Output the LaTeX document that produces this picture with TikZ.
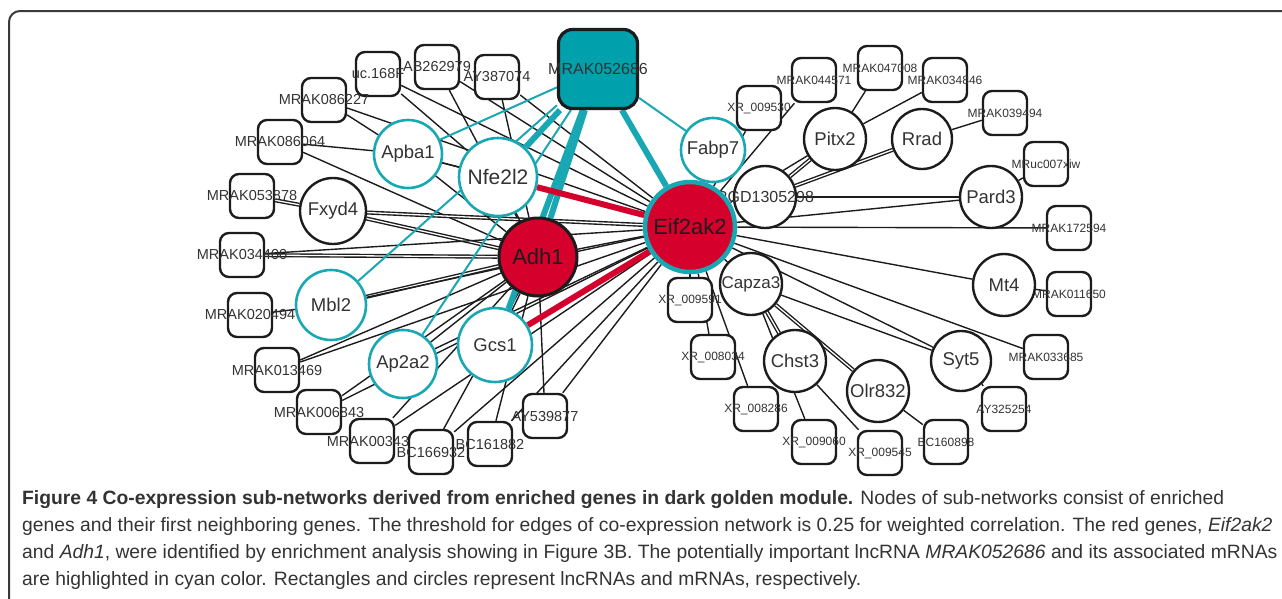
\documentclass[tikz,border=0pt]{standalone}
\usepackage{fontspec}
\setmainfont{Liberation Sans}
\usetikzlibrary{backgrounds}
\definecolor{lncfill}{HTML}{00A0AC}
\definecolor{lncborder}{HTML}{19A8B3}
\definecolor{hubred}{HTML}{D6002C}
\definecolor{darkline}{HTML}{1C1C1C}
\definecolor{labeltext}{HTML}{333333}
\definecolor{framegray}{HTML}{3A3A3A}
\tikzset{
  lnc/.style={rectangle, rounded corners=9pt, draw=darkline, fill=white, line width=2.4pt, minimum size=44pt, inner sep=0pt},
  tagl/.style={font=\fontsize{14.5}{15}\selectfont, text=labeltext, inner sep=0pt},
  tagr/.style={font=\fontsize{12}{13}\selectfont, text=labeltext, inner sep=0pt},
  boxl/.style={lnc, label={[tagl]center:#1}},
  boxr/.style={lnc, label={[tagr]center:#1}},
  keylnc/.style={lnc, fill=lncfill, line width=3.2pt, minimum size=79pt, rounded corners=14pt,
    label={[font=\fontsize{16}{17}\selectfont, text=labeltext]center:#1}},
  mrna/.style={circle, draw=darkline, fill=white, line width=2.4pt, inner sep=0pt, text=labeltext, font=\fontsize{18.5}{19}\selectfont},
  mrnacyan/.style={mrna, draw=lncborder, line width=2.6pt},
  hub/.style={circle, fill=hubred, inner sep=0pt, text=darkline, font=\fontsize{22}{23}\selectfont},
  edge/.style={draw=darkline, line width=1.4pt},
  pairedge/.style={edge, double=white, double distance=1.3pt},
  cyanthin/.style={draw=lncborder, line width=2pt},
  cyanthick/.style={draw=lncborder, line width=6pt},
  redlink/.style={draw=hubred, line width=6pt},
  frame/.style={draw=framegray, line width=2pt, rounded corners=11pt},
  caption/.style={anchor=base west, align=left, inner sep=0pt, text=labeltext,
    font=\fontsize{19.3}{27}\selectfont},
}

\begin{document}
\begin{tikzpicture}[x=1pt, y=-1pt]
\useasboundingbox (0,0) rectangle (1282,598);
\clip (0,0) rectangle (1282,598);
\draw[frame] (9,11) rectangle (1310,630);

% ===== left lncRNAs =====
\node[boxl=uc.168F]    (uc168f)   at (378,74)  {};
\node[boxl=AB262979]   (ab262979) at (437,67)  {};
\node[boxl=AY387074]   (ay387074) at (497,77)  {};
\node[boxl=MRAK086227] (m086227)  at (324,100) {};
\node[boxl=MRAK086064] (m086064)  at (280,142) {};
\node[boxl=MRAK053878] (m053878)  at (252,196) {};
\node[boxl=MRAK034400] (m034400)  at (242,255) {};
\node[boxl=MRAK020494] (m020494)  at (250,315) {};
\node[boxl=MRAK013469] (m013469)  at (277,370) {};
\node[boxl=MRAK006843] (m006843)  at (319,412) {};
\node[boxl=MRAK003434] (m003434)  at (372,441) {};
\node[boxl=BC166932]   (bc166932) at (431,452) {};
\node[boxl=BC161882]   (bc161882) at (490,444) {};
\node[boxl=AY539877]   (ay539877) at (545,416) {};

% ===== left mRNAs =====
\node[mrna, minimum size=66pt]     (fxyd4)  at (333,211) {Fxyd4};
\node[mrnacyan, minimum size=68pt] (apba1)  at (408,154) {Apba1};
\node[mrnacyan, minimum size=78pt] (nfe2l2) at (498,177) {\fontsize{21}{22}\selectfont Nfe2l2};
\node[mrnacyan, minimum size=70pt] (mbl2)   at (331,305) {Mbl2};
\node[mrnacyan, minimum size=68pt] (ap2a2)  at (403,364) {Ap2a2};
\node[mrnacyan, minimum size=74pt] (gcs1)   at (495,345) {Gcs1};

% ===== right lncRNAs =====
\node[boxr=XR\_009530]  (xr009530) at (759,108) {};
\node[boxr=MRAK044571]  (m044571)  at (814,80)  {};
\node[boxr=MRAK047008]  (m047008)  at (880,68)  {};
\node[boxr=MRAK034846]  (m034846)  at (945,80)  {};
\node[boxr=MRAK039494]  (m039494)  at (1005,113) {};
\node[boxr=MRuc007xiw]  (mruc007)  at (1046,164) {};
\node[boxr=MRAK172594]  (m172594)  at (1069,228) {};
\node[boxr=MRAK011650]  (m011650)  at (1069,294) {};
\node[boxr=MRAK033685]  (m033685)  at (1046,357) {};
\node[boxr=AY325254]    (ay325254) at (1004,409) {};
\node[boxr=BC160898]    (bc160898) at (946,442) {};
\node[boxr=XR\_009545]  (xr009545) at (880,453) {};
\node[boxr=XR\_009060]  (xr009060) at (814,442) {};
\node[boxr=XR\_008286]  (xr008286) at (756,409) {};
\node[boxr=XR\_008034]  (xr008034) at (713,357) {};
\node[boxr=XR\_009591]  (xr009591) at (690,300) {};

% ===== right mRNAs =====
\node[mrna, minimum size=62pt] (pitx2)  at (835,139) {Pitx2};
\node[mrna, minimum size=60pt] (rrad)   at (922,139) {Rrad};
\node[mrna, minimum size=62pt, label={[text=labeltext, font=\fontsize{16}{17}\selectfont]center:RGD1305298}] (rgd) at (765,197) {};
\node[mrna, minimum size=62pt] (pard3)  at (991,197) {Pard3};
\node[mrna, minimum size=62pt] (mt4)    at (1004,285) {Mt4};
\node[mrna, minimum size=60pt] (syt5)   at (961,361) {Syt5};
\node[mrna, minimum size=62pt] (olr832) at (878,391) {Olr832};
\node[mrna, minimum size=62pt] (chst3)  at (795,361) {Chst3};
\node[mrna, minimum size=62pt] (capza3) at (751,284) {\fontsize{17}{18}\selectfont Capza3};
\node[mrnacyan, minimum size=64pt] (fabp7) at (713,150) {Fabp7};

% ===== hubs =====
\node[hub, draw=darkline, line width=3pt, minimum size=78pt] (adh1) at (538,257) {Adh1};
\node[hub, draw=lncborder, line width=4.5pt, minimum size=90pt] (eif2ak2) at (690,227) {Eif2ak2};
\node[keylnc=MRAK052686] (m052686) at (598,69) {};

% ===== co-expression edges =====
\begin{scope}[on background layer]
  % left side
  \draw[edge] (uc168f) -- (nfe2l2);
  \draw[edge] (uc168f) -- (eif2ak2);
  \draw[edge] (ab262979) -- (adh1);
  \draw[edge] (ab262979) -- (eif2ak2);
  \draw[edge] (ay387074) -- (adh1);
  \draw[edge] (ay387074) -- (eif2ak2);
  \draw[edge] (m086227) -- (apba1);
  \draw[edge] (m086227) -- (eif2ak2);
  \draw[edge] (m086064) -- (apba1);
  \draw[edge] (m086064) -- (adh1);
  \draw[pairedge] (m053878) -- (fxyd4);
  \draw[pairedge] (fxyd4) -- (adh1);
  \draw[pairedge] (fxyd4) -- (eif2ak2);
  \draw[pairedge] (m034400) -- (adh1);
  \draw[edge] (m034400) -- (eif2ak2);
  \draw[edge] (apba1) -- (nfe2l2);
  \draw[edge] (apba1) -- (adh1);
  \draw[edge] (apba1) -- (eif2ak2);
  \draw[edge] (nfe2l2) -- (adh1);
  \draw[pairedge] (mbl2) -- (adh1);
  \draw[edge] (mbl2) -- (eif2ak2);
  \draw[edge] (m020494) -- (mbl2);
  \draw[edge] (m013469) -- (adh1);
  \draw[edge] (m013469) -- (eif2ak2);
  \draw[edge] (ap2a2) -- (adh1);
  \draw[edge] (ap2a2) -- (eif2ak2);
  \draw[edge] (gcs1) -- (adh1);
  \draw[edge] (m006843) -- (adh1);
  \draw[edge] (m006843) -- (eif2ak2);
  \draw[edge] (m003434) -- (adh1);
  \draw[edge] (m003434) -- (eif2ak2);
  \draw[edge] (bc166932) -- (adh1);
  \draw[edge] (bc166932) -- (eif2ak2);
  \draw[edge] (bc161882) -- (adh1);
  \draw[edge] (bc161882) -- (eif2ak2);
  \draw[edge] (ay539877) -- (adh1);
  \draw[edge] (ay539877) -- (eif2ak2);
  \draw[edge] (adh1) -- (eif2ak2);
  % right side
  \draw[edge] (xr009530) -- (eif2ak2);
  \draw[edge] (m044571) -- (eif2ak2);
  \draw[edge] (m047008) -- (pitx2);
  \draw[edge] (m034846) -- (pitx2);
  \draw[pairedge] (pitx2) -- (rgd);
  \draw[edge] (pitx2) -- (eif2ak2);
  \draw[pairedge] (rrad) -- (rgd);
  \draw[edge] (rrad) -- (m039494);
  \draw[edge] (pard3) -- (rgd);
  \draw[edge] (pard3) -- (eif2ak2);
  \draw[edge] (pard3) -- (mruc007);
  \draw[edge] (eif2ak2) -- (m172594);
  \draw[edge] (eif2ak2) -- (mt4);
  \draw[edge] (mt4) -- (m011650);
  \draw[edge] (eif2ak2) -- (m033685);
  \draw[edge] (eif2ak2) -- (syt5);
  \draw[edge] (capza3) -- (syt5);
  \draw[edge] (syt5) -- (ay325254);
  \draw[edge] (eif2ak2) -- (capza3);
  \draw[pairedge] (capza3) -- (chst3);
  \draw[pairedge] (capza3) -- (olr832);
  \draw[edge] (olr832) -- (bc160898);
  \draw[edge] (chst3) -- (xr009545);
  \draw[edge] (capza3) -- (xr009060);
  \draw[edge] (eif2ak2) -- (xr008286);
  \draw[edge] (eif2ak2) -- (xr008034);
  \draw[edge] (eif2ak2) -- (xr009591);
  % MRAK052686 and enriched genes
  \draw[cyanthin] (m052686) -- (apba1);
  \draw[cyanthin] (m052686) -- (fabp7);
  \draw[cyanthin] (m052686) -- (mbl2);
  \draw[cyanthin] (m052686) -- (ap2a2);
  \draw[cyanthick] (m052686) -- (nfe2l2);
  \draw[cyanthick] (m052686) -- (adh1);
  \draw[cyanthick] (m052686) -- (gcs1);
  \draw[cyanthick] (m052686) -- (eif2ak2);
  \draw[redlink] (nfe2l2) -- (eif2ak2);
  \draw[redlink] (gcs1) -- (eif2ak2);
\end{scope}

% ===== caption =====
\node[caption] (legend) at (22,585) {\textbf{Figure 4 Co-expression sub-networks derived from enriched genes in dark golden module.} Nodes of sub-networks consist of enriched\\
genes and their first neighboring genes. The threshold for edges of co-expression network is 0.25 for weighted correlation. The red genes, \textit{Eif2ak2}\\
and \textit{Adh1}, were identified by enrichment analysis showing in Figure 3B. The potentially important lncRNA \textit{MRAK052686} and its associated mRNAs\\
are highlighted in cyan color. Rectangles and circles represent lncRNAs and mRNAs, respectively.};

\end{tikzpicture}
\end{document}
